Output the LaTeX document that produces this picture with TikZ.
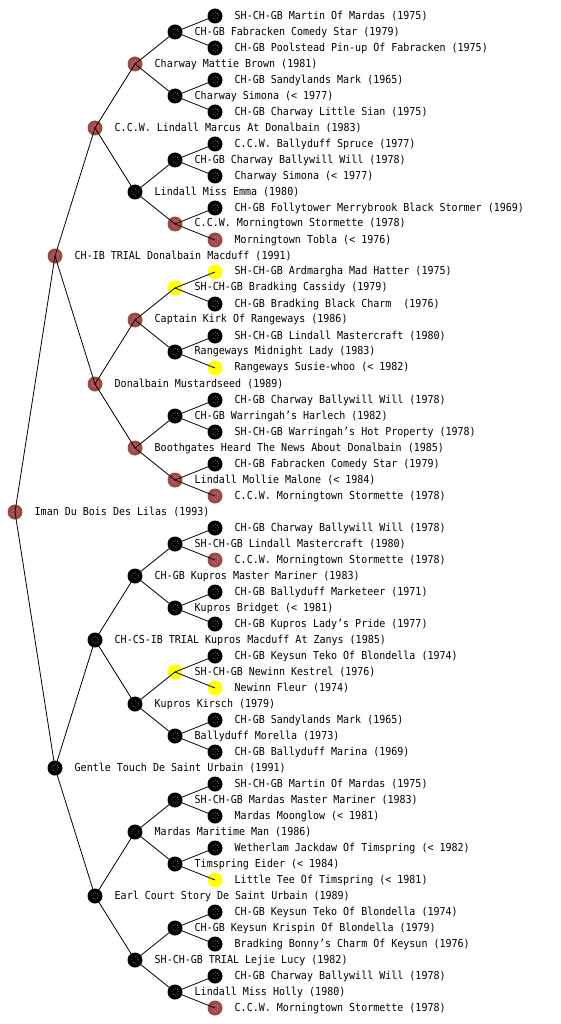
\documentclass[tikz,border=0pt]{standalone}
\usepackage{fontspec}
\newfontfamily\dogfont{DejaVu Sans Mono}[FakeStretch=0.91]
\definecolor{dogbrown}{RGB}{160,72,72}
\definecolor{dogyellow}{RGB}{255,255,0}
\tikzset{
  dog/.style={circle, minimum size=15pt, inner sep=0pt, fill=#1,
    path picture={\draw[white, line width=0.5pt, dash pattern=on 0.5pt off 1.8pt]
      (path picture bounding box.center) circle (3.4pt);
      \fill[white] (path picture bounding box.center) circle (0.4pt);}},
  lbl/.style={anchor=west, inner sep=0pt, font=\dogfont\fontsize{11pt}{12pt}\selectfont},
  edge/.style={draw=black, line width=0.8pt}
}
\newcommand\dn[4]{%
  \node[dog=#3] (n#1) at ({15+40*#2},{16*#1}) {};
  \node[lbl] (t#1) at ({34.5+40*#2},{16*#1}) {#4};}
\begin{document}
\begin{tikzpicture}[x=1pt, y=-1pt]
\useasboundingbox (0,0) rectangle (560,1024);
\dn{1}{5}{black}{SH-CH-GB Martin Of Mardas (1975)}
\dn{2}{4}{black}{CH-GB Fabracken Comedy Star (1979)}
\dn{3}{5}{black}{CH-GB Poolstead Pin-up Of Fabracken (1975)}
\dn{4}{3}{dogbrown}{Charway Mattie Brown (1981)}
\dn{5}{5}{black}{CH-GB Sandylands Mark (1965)}
\dn{6}{4}{black}{Charway Simona (< 1977)}
\dn{7}{5}{black}{CH-GB Charway Little Sian (1975)}
\dn{8}{2}{dogbrown}{C.C.W. Lindall Marcus At Donalbain (1983)}
\dn{9}{5}{black}{C.C.W. Ballyduff Spruce (1977)}
\dn{10}{4}{black}{CH-GB Charway Ballywill Will (1978)}
\dn{11}{5}{black}{Charway Simona (< 1977)}
\dn{12}{3}{black}{Lindall Miss Emma (1980)}
\dn{13}{5}{black}{CH-GB Follytower Merrybrook Black Stormer (1969)}
\dn{14}{4}{dogbrown}{C.C.W. Morningtown Stormette (1978)}
\dn{15}{5}{dogbrown}{Morningtown Tobla (< 1976)}
\dn{16}{1}{dogbrown}{CH-IB TRIAL Donalbain Macduff (1991)}
\dn{17}{5}{dogyellow}{SH-CH-GB Ardmargha Mad Hatter (1975)}
\dn{18}{4}{dogyellow}{SH-CH-GB Bradking Cassidy (1979)}
\dn{19}{5}{black}{CH-GB Bradking Black Charm\ \ (1976)}
\dn{20}{3}{dogbrown}{Captain Kirk Of Rangeways (1986)}
\dn{21}{5}{black}{SH-CH-GB Lindall Mastercraft (1980)}
\dn{22}{4}{black}{Rangeways Midnight Lady (1983)}
\dn{23}{5}{dogyellow}{Rangeways Susie-whoo (< 1982)}
\dn{24}{2}{dogbrown}{Donalbain Mustardseed (1989)}
\dn{25}{5}{black}{CH-GB Charway Ballywill Will (1978)}
\dn{26}{4}{black}{CH-GB Warringah’s Harlech (1982)}
\dn{27}{5}{black}{SH-CH-GB Warringah’s Hot Property (1978)}
\dn{28}{3}{dogbrown}{Boothgates Heard The News About Donalbain (1985)}
\dn{29}{5}{black}{CH-GB Fabracken Comedy Star (1979)}
\dn{30}{4}{dogbrown}{Lindall Mollie Malone (< 1984)}
\dn{31}{5}{dogbrown}{C.C.W. Morningtown Stormette (1978)}
\dn{32}{0}{dogbrown}{Iman Du Bois Des Lilas (1993)}
\dn{33}{5}{black}{CH-GB Charway Ballywill Will (1978)}
\dn{34}{4}{black}{SH-CH-GB Lindall Mastercraft (1980)}
\dn{35}{5}{dogbrown}{C.C.W. Morningtown Stormette (1978)}
\dn{36}{3}{black}{CH-GB Kupros Master Mariner (1983)}
\dn{37}{5}{black}{CH-GB Ballyduff Marketeer (1971)}
\dn{38}{4}{black}{Kupros Bridget (< 1981)}
\dn{39}{5}{black}{CH-GB Kupros Lady’s Pride (1977)}
\dn{40}{2}{black}{CH-CS-IB TRIAL Kupros Macduff At Zanys (1985)}
\dn{41}{5}{black}{CH-GB Keysun Teko Of Blondella (1974)}
\dn{42}{4}{dogyellow}{SH-CH-GB Newinn Kestrel (1976)}
\dn{43}{5}{dogyellow}{Newinn Fleur (1974)}
\dn{44}{3}{black}{Kupros Kirsch (1979)}
\dn{45}{5}{black}{CH-GB Sandylands Mark (1965)}
\dn{46}{4}{black}{Ballyduff Morella (1973)}
\dn{47}{5}{black}{CH-GB Ballyduff Marina (1969)}
\dn{48}{1}{black}{Gentle Touch De Saint Urbain (1991)}
\dn{49}{5}{black}{SH-CH-GB Martin Of Mardas (1975)}
\dn{50}{4}{black}{SH-CH-GB Mardas Master Mariner (1983)}
\dn{51}{5}{black}{Mardas Moonglow (< 1981)}
\dn{52}{3}{black}{Mardas Maritime Man (1986)}
\dn{53}{5}{black}{Wetherlam Jackdaw Of Timspring (< 1982)}
\dn{54}{4}{black}{Timspring Eider (< 1984)}
\dn{55}{5}{dogyellow}{Little Tee Of Timspring (< 1981)}
\dn{56}{2}{black}{Earl Court Story De Saint Urbain (1989)}
\dn{57}{5}{black}{CH-GB Keysun Teko Of Blondella (1974)}
\dn{58}{4}{black}{CH-GB Keysun Krispin Of Blondella (1979)}
\dn{59}{5}{black}{Bradking Bonny’s Charm Of Keysun (1976)}
\dn{60}{3}{black}{SH-CH-GB TRIAL Lejie Lucy (1982)}
\dn{61}{5}{black}{CH-GB Charway Ballywill Will (1978)}
\dn{62}{4}{black}{Lindall Miss Holly (1980)}
\dn{63}{5}{dogbrown}{C.C.W. Morningtown Stormette (1978)}
\foreach \i/\s in {32/16,16/8,48/8,8/4,24/4,40/4,56/4,
  4/2,12/2,20/2,28/2,36/2,44/2,52/2,60/2,
  2/1,6/1,10/1,14/1,18/1,22/1,26/1,30/1,34/1,38/1,42/1,46/1,50/1,54/1,58/1,62/1}{
  \pgfmathtruncatemacro\ca{\i-\s}
  \pgfmathtruncatemacro\cb{\i+\s}
  \draw[edge] (n\i.center) -- (n\ca.center);
  \draw[edge] (n\i.center) -- (n\cb.center);
}
\end{tikzpicture}
\end{document}
